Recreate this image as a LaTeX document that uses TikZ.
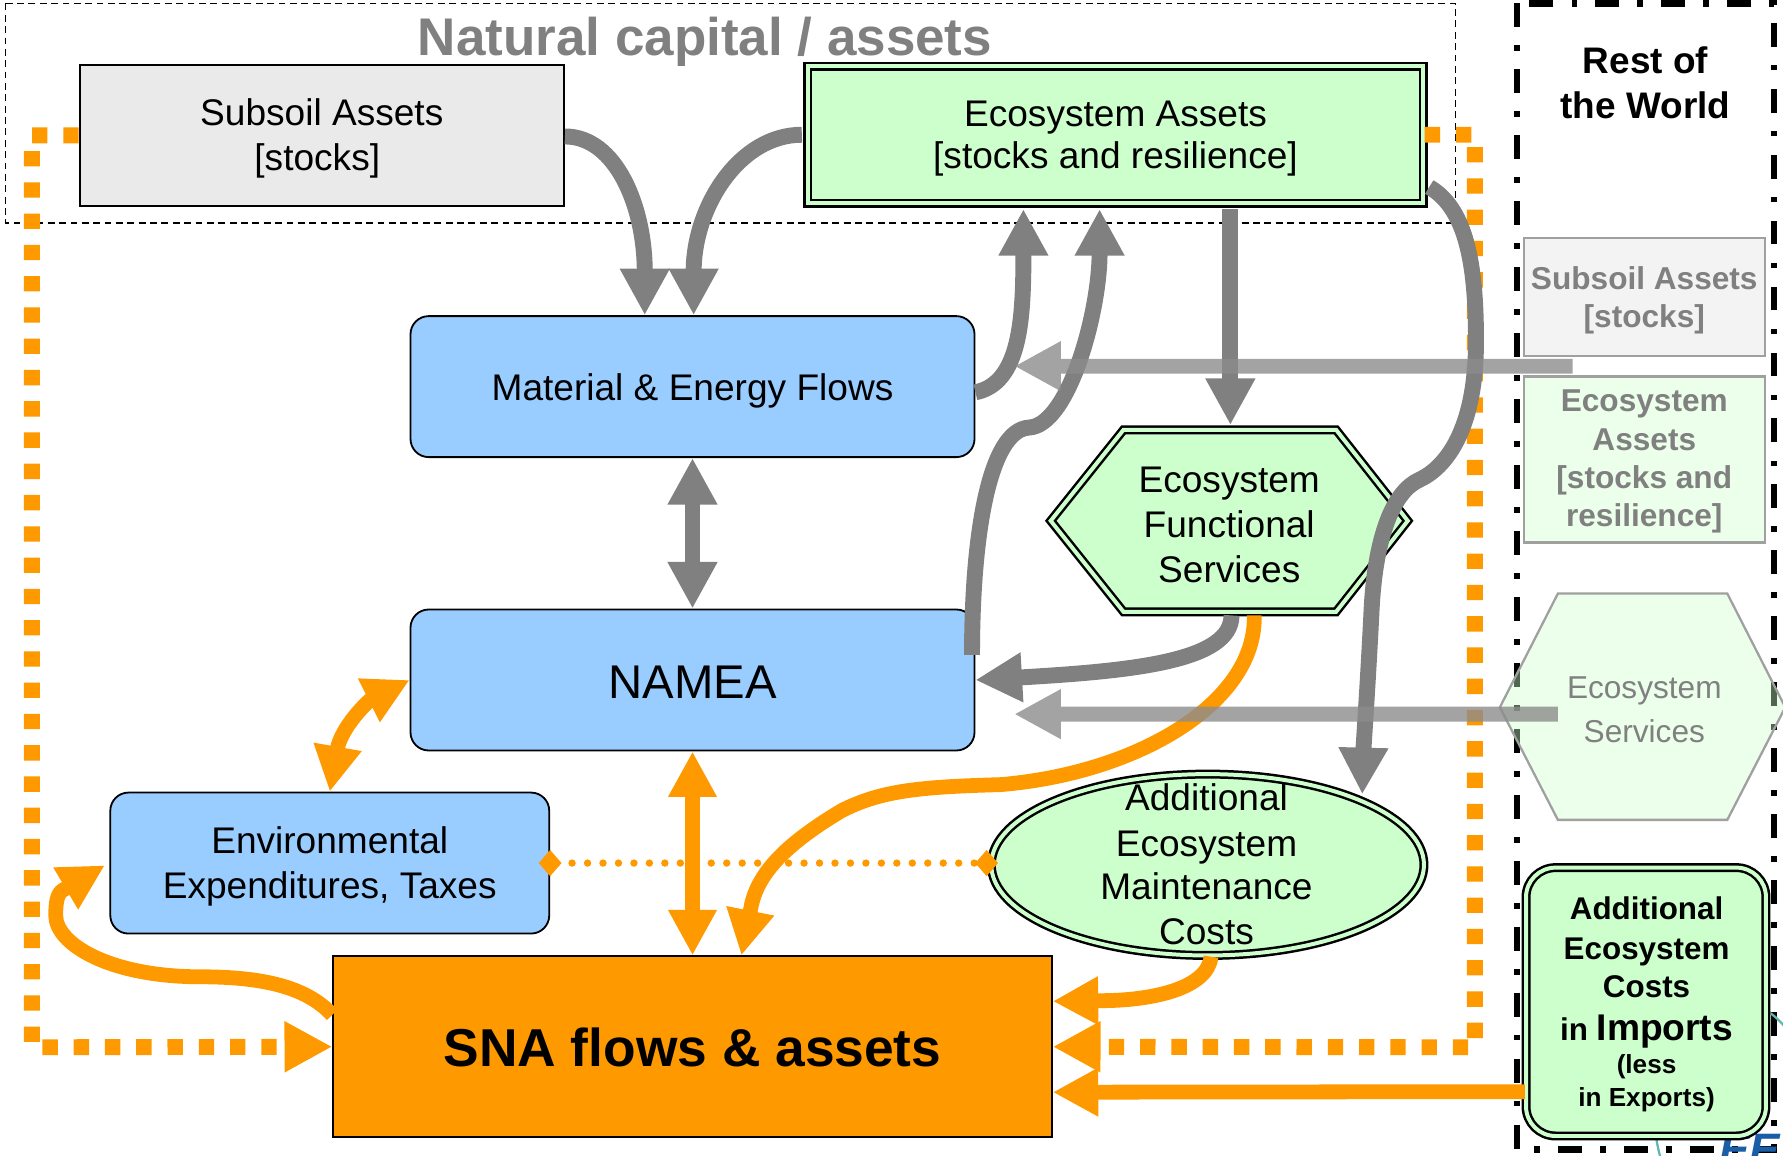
\documentclass[tikz,border=0pt]{standalone}
\usepackage{fontspec}
\setmainfont{Liberation Sans}
\usetikzlibrary{arrows.meta,shapes.geometric,calc}
\definecolor{cgray}{HTML}{808080}
\definecolor{cghost}{HTML}{8C8C8C}
\definecolor{cghostline}{HTML}{A0A0A0}
\definecolor{corange}{HTML}{FF9900}
\definecolor{cblue}{HTML}{99CCFF}
\definecolor{cgreen}{HTML}{CCFFCC}
\definecolor{csub}{HTML}{EAEAEA}
\definecolor{csubghost}{HTML}{F3F3F3}
\definecolor{cteal}{HTML}{5FB8B4}
\definecolor{ceea}{HTML}{1B5EA8}
\newcommand{\myfs}[2]{\fontsize{#1}{#2}\selectfont}
\tikzset{
  ln/.style={anchor=base, inner sep=0pt, outer sep=0pt, font=\myfs{32.6}{39.5}},
  shp/.style={inner sep=0pt},
  bluebox/.style={shp, draw=black, line width=1.6pt, fill=cblue, rounded corners=16pt, minimum width=496pt, minimum height=124pt},
  dbl/.style={shp, draw=black, line width=2.2pt, double=cgreen, double distance=3.5pt, fill=cgreen},
  garrow/.style={draw=cgray, line width=14pt, line join=round, -{Triangle[length=41pt,width=41pt]}},
  gboth/.style={draw=cgray, line width=14pt, {Triangle[length=41pt,width=41pt]}-{Triangle[length=41pt,width=41pt]}},
  oarrow/.style={draw=corange, line width=13pt, line join=round, -{Triangle[length=40pt,width=40pt]}},
  oboth/.style={draw=corange, line width=13pt, {Triangle[length=40pt,width=40pt]}-{Triangle[length=40pt,width=40pt]}},
  odots/.style={draw=corange, line width=14pt, dash pattern=on 13.5pt off 14pt, -{Triangle[length=42pt,width=42pt]}},
  ghostarrow/.style={draw=cghost, line width=13pt, -{Triangle[length=41pt,width=41pt]}},
  ghosttxt/.style={ln, text=cgray, font=\bfseries\myfs{27.8}{33}},
  imptxt/.style={ln, font=\bfseries\myfs{27.6}{30}},
}
\begin{document}
\begin{tikzpicture}[x=1pt,y=-1pt]
\useasboundingbox (0,0) rectangle (1568,1016);

% ---------- background frames ----------
\draw[line width=1.3pt, dash pattern=on 6pt off 4pt] (5,3) rectangle (1280,196);
\node[anchor=base, inner sep=0pt, text=cgray, font=\bfseries\myfs{46.6}{50}] (natcap) at (620,49) {Natural capital / assets};

\draw[line width=6pt, dash pattern=on 21pt off 16pt on 5pt off 16pt] (1334,3) rectangle (1560,1011);
\node[ln, font=\bfseries\myfs{32.5}{39}] (row1) at (1447,65) {Rest of};
\node[ln, font=\bfseries\myfs{32.5}{39}] (row2) at (1447,104) {the World};

% EEA logo remnants
\draw[cteal, line width=2pt] (1525,980) ellipse [x radius=70pt, y radius=100pt];
\node[anchor=north west, inner sep=0pt, text=ceea, font=\bfseries\itshape\myfs{40}{40}] (eea) at (1512,997) {EEA};

% ---------- ghost (rest of world) shapes ----------
\node[shp, draw=cghostline, line width=2pt, fill=csubghost, minimum width=212pt, minimum height=104pt] (gsub) at (1446,261) {};
\node[ghosttxt] (gsub1) at (1446,255) {Subsoil Assets};
\node[ghosttxt] (gsub2) at (1446,288) {[stocks]};

\node[shp, draw=cghostline, line width=2pt, fill=cgreen, fill opacity=0.4, minimum width=212pt, minimum height=146pt] (geco) at (1446,404) {};
\node[ghosttxt] (geco1) at (1446,362) {Ecosystem};
\node[ghosttxt] (geco2) at (1446,396) {Assets};
\node[ghosttxt] (geco3) at (1446,430) {[stocks and};
\node[ghosttxt] (geco4) at (1446,463) {resilience]};

\draw[draw=cghostline, line width=2pt, fill=cgreen, fill opacity=0.4] (1319,622) -- (1370,522) -- (1519,522) -- (1570,622) -- (1519,721) -- (1370,721) -- cycle;
\node[shp, minimum width=250pt, minimum height=199pt] (ghex) at (1444.5,621.5) {};
\node[ln, text=cgray, font=\myfs{27.8}{33}] (ghex1) at (1446,614) {Ecosystem};
\node[ln, text=cgray, font=\myfs{27.8}{33}] (ghex2) at (1446,653) {Services};

% ---------- main nodes ----------
\node[shp, draw=black, line width=1.6pt, fill=csub, minimum width=426pt, minimum height=124pt] (subsoil) at (283,119) {};
\node[ln] (subsoil1) at (283,110) {Subsoil Assets};
\node[ln] (subsoil2) at (279,150) {[stocks]};

\node[dbl, minimum width=541.5pt, minimum height=120.5pt] (ecoA) at (981,118.5) {};
\node[ln] (ecoA1) at (981,111) {Ecosystem Assets};
\node[ln] (ecoA2) at (981,148) {[stocks and resilience]};

\node[bluebox] (mef) at (609,340) {};
\node[ln] (mef1) at (609,352) {Material \& Energy Flows};

\node[bluebox] (namea) at (609,598) {};
\node[ln, font=\myfs{41.6}{45}] (namea1) at (609,614) {NAMEA};

\node[bluebox, minimum width=386pt] (envexp) at (290,759) {};
\node[ln] (envexp1) at (290,751) {Environmental};
\node[ln] (envexp2) at (290,790) {Expenditures, Taxes};

\node[shp, draw=black, line width=1.6pt, fill=corange, minimum width=632pt, minimum height=159pt] (sna) at (609,920.5) {};
\node[ln, font=\bfseries\myfs{46.9}{50}] (sna1) at (609,938) {SNA flows \& assets};

\draw[dbl] (924,458) -- (988,378) -- (1175,378) -- (1238,458) -- (1175,538) -- (988,538) -- cycle;
\node[shp, minimum width=322pt, minimum height=166pt] (hexEFS) at (1081,458) {};
\node[ln] (hex1) at (1081,433) {Ecosystem};
\node[ln] (hex2) at (1081,473) {Functional};
\node[ln] (hex3) at (1081,512) {Services};

\node[dbl, ellipse, minimum width=380.5pt, minimum height=159.5pt] (aemc) at (1062,760.5) {};
\node[ln] (aemc1) at (1061,713) {Additional};
\node[ln] (aemc2) at (1061,753) {Ecosystem};
\node[ln] (aemc3) at (1061,791) {Maintenance};
\node[ln] (aemc4) at (1061,831) {Costs};

\node[dbl, rounded corners=26pt, minimum width=211pt, minimum height=236pt] (imports) at (1447.5,881) {};
\node[imptxt] (imp1) at (1448,809) {Additional};
\node[imptxt] (imp2) at (1448,844) {Ecosystem};
\node[imptxt] (imp3) at (1448,877) {Costs};
\node[imptxt] (imp4) at (1448,915) {in {\myfs{32.7}{35}Imports}};
\node[imptxt, font=\bfseries\myfs{23}{26}] (imp5) at (1448,944) {(less};
\node[imptxt, font=\bfseries\myfs{23}{26}] (imp6) at (1448,973) {in Exports)};

% ---------- orange dotted loops ----------
\draw[odots] (subsoil.west) -- (28,119) -- (28,921) -- (sna.west);
\draw[odots] (ecoA.east) -- (1297,118.5) -- (1297,921) -- (sna.east);

% ---------- gray arrows ----------
\draw[garrow] ($(subsoil.east)+(0,1)$) .. controls +(45,0) and +(0,-95) .. ($(mef.north)+(-42,0)$);
\draw[garrow] ($(ecoA.west)+(-4,0)$) .. controls +(-55,0) and +(0,-95) .. ($(mef.north)+(1,0)$);
\draw[garrow] ($(mef.east)+(0,5)$) .. controls +(40,-8) and +(0,95) .. ($(ecoA.south)+(-81,4)$);
\draw[garrow] ($(namea.east)+(-3,-22)$) .. controls +(0,-106) and +(-35,2) .. (905,376) .. controls +(35,-2) and +(0,90) .. ($(ecoA.south)+(-14,4)$);
\draw[garrow] ($(ecoA.south)+(101,4)$) -- ($(hexEFS.north)+(1,-1)$);
\draw[garrow] ($(ecoA.east)+(4,46)$) .. controls +(35,20) and +(0,-60) .. (1298,300) .. controls +(0,80) and +(22,-10) .. (1248,422) .. controls +(-22,10) and +(3,-70) .. (1206,540) .. controls +(-3,60) and +(1,-40) .. ($(aemc.center)+(136,-62)$);
\draw[garrow] ($(hexEFS.south)+(2,0)$) .. controls +(0,40) and +(140,-8) .. (namea.east);
\draw[gboth] (mef.south) -- (namea.north);

% ---------- orange arrows ----------
\draw[oboth] (namea.south) -- (sna.north);
\draw[oboth] (envexp.north) .. controls +(10,-57) and +(-36,18) .. (namea.west);
\draw[oarrow] ($(sna.west)+(0,-28)$) .. controls +(-23,-25) and +(54,0) .. (176,859) .. controls +(-80,0) and +(0,25) .. (49,805) .. controls +(0,-10) and +(-5,3) .. (55,783) -- ($(envexp.west)+(-4,2)$);
\draw[oarrow] ($(hexEFS.south)+(22,0)$) .. controls +(2,77) and +(120,-10) .. (880,690) .. controls +(-70,2) and +(35,-18) .. (740,713) .. controls +(-45,27) and +(7,-30) .. (661,795) -- ($(sna.north)+(43,0)$);
\draw[oarrow] ($(aemc.south)+(3,0)$) .. controls +(-3,28) and +(45,0) .. (968,880) -- ($(sna.east)+(0,-40)$);
\draw[oarrow] ($(imports.west)+(0,79)$) -- ($(sna.east)+(0,40)$);

% ---------- translucent import arrows ----------
\coordinate (t1s) at (1383,322);
\coordinate (t1e) at (892,322);
\coordinate (t2s) at (1370,628);
\coordinate (t2e) at (892,628);
\begin{scope}[transparency group, opacity=0.8]
\draw[ghostarrow] (t1s) -- (t1e);
\draw[ghostarrow] (t2s) -- (t2e);
\end{scope}

% ---------- dotted link ----------
\draw[draw=corange, line width=6.5pt, line cap=round, dash pattern=on 0pt off 13.6pt,
  {Diamond[length=20pt,width=23pt]}-{Diamond[length=20pt,width=23pt]}]
  ($(envexp.east)+(-10,0)$) -- ($(aemc.west)+(7,-1.5)$);
\end{tikzpicture}
\end{document}
